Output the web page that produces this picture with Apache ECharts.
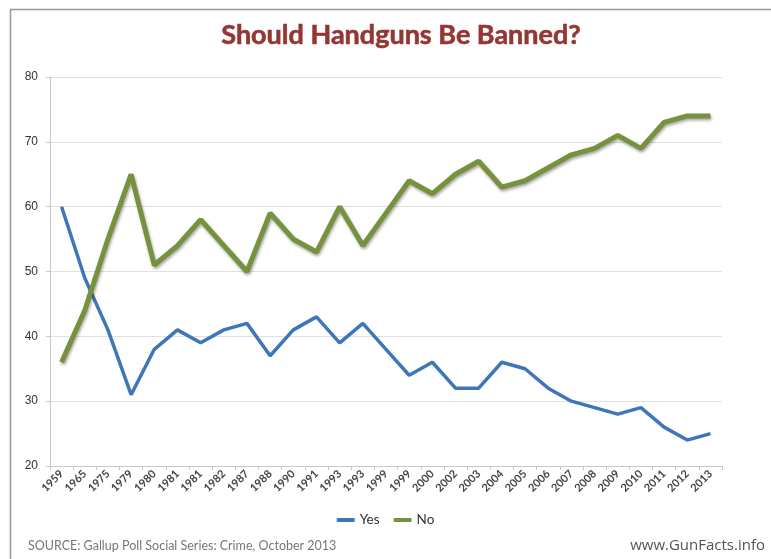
<!DOCTYPE html>
<html><head><meta charset="utf-8">
<script src="https://cdn.jsdelivr.net/npm/echarts@6/dist/echarts.min.js"></script>
<style>html,body{margin:0;padding:0;background:#fff}#c{width:771px;height:559px}</style>
</head><body><div id="c"></div>
<script>
const years = ['1959','1965','1975','1979','1980','1981','1981','1982','1987','1988','1990','1991','1993','1993','1999','1999','2000','2002','2003','2004','2005','2006','2007','2008','2009','2010','2011','2012','2013'];
const yesValues = [60,49,41,31,38,41,39,41,42,37,41,43,39,42,38,34,36,32,32,36,35,32,30,29,28,29,26,24,25];
const noValues  = [36,44,55,65,51,54,58,54,50,59,55,53,60,54,59,64,62,65,67,63,64,66,68,69,71,69,73,74,74];
const yTicks = [20,30,40,50,60,70,80];

const chart = echarts.init(document.getElementById('c'), null, {renderer:'canvas'});
chart.setOption({
  animation:false,
  backgroundColor:'#fff',
  title:{text:'Should Handguns Be Banned?', left:396, textAlign:'center', top:17,
    textStyle:{fontFamily:'Lato', fontWeight:'bold', fontSize:27, color:'#943634',
      textBorderColor:'#943634', textBorderWidth:0.6}},
  grid:{left:50, right:49, top:77, bottom:93, containLabel:false},
  legend:{bottom:27, left:'center', itemWidth:18, itemHeight:4, itemGap:14, icon:'roundRect',
    textStyle:{fontFamily:'Lato', fontSize:13.5, color:'#333'},
    data:['Yes','No']},
  xAxis:{type:'category', data:years, boundaryGap:true,
    axisLine:{lineStyle:{color:'#c8c8c8'}},
    axisTick:{show:true, alignWithLabel:false, interval:0, length:4, lineStyle:{color:'#c8c8c8'}},
    axisLabel:{interval:0, rotate:45, fontFamily:'Lato', fontSize:11, fontWeight:'bold', color:'#444', margin:6}},
  yAxis:{type:'value', min:yTicks[0], max:yTicks[yTicks.length-1], interval:10,
    axisLine:{show:true, lineStyle:{color:'#c8c8c8'}},
    axisTick:{show:true, length:4, lineStyle:{color:'#c8c8c8'}},
    splitLine:{lineStyle:{color:'#e0e0e0'}},
    axisLabel:{fontFamily:'Liberation Sans', fontSize:12, color:'#333', margin:12}},
  series:[
    {name:'Yes', type:'line', data:yesValues, symbol:'none', color:'#3f76b8',
      lineStyle:{width:3.5, color:'#3f76b8'}},
    {name:'No', type:'line', data:noValues, symbol:'none', color:'#76923c',
      lineStyle:{width:5, color:'#76923c', shadowColor:'rgba(0,0,0,0.35)', shadowBlur:3, shadowOffsetX:1, shadowOffsetY:2}}
  ],
  graphic:[
    {type:'line', shape:{x1:10, y1:9.5, x2:771, y2:9.5}, style:{stroke:'#999', lineWidth:1.5}},
    {type:'line', shape:{x1:10.5, y1:9, x2:10.5, y2:559}, style:{stroke:'#999', lineWidth:1.5}},
    {type:'text', left:28, top:539, style:{text:'SOURCE: Gallup Poll Social Series: Crime, October 2013', fontFamily:'Lato', fontSize:12.5, fill:'#777'}},
    {type:'text', right:6, top:538, style:{text:'www.GunFacts.info', fontFamily:'Open Sans', fontSize:15, fill:'#555'}}
  ]
});
</script></body></html>
